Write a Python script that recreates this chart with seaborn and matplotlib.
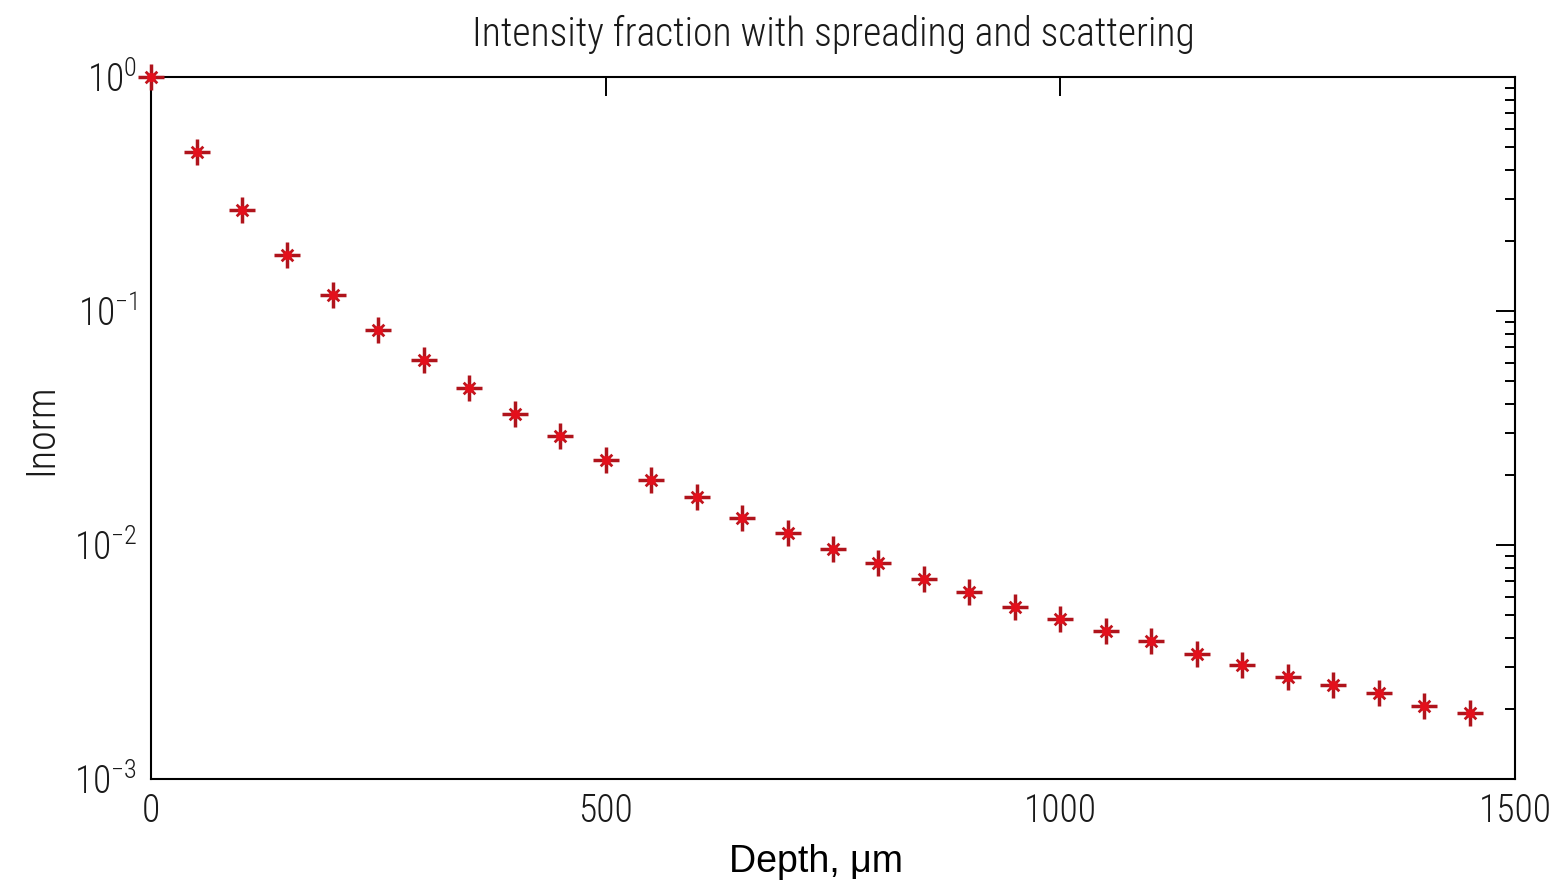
import numpy as np
import pandas as pd
import seaborn as sns
import matplotlib.pyplot as plt
from matplotlib import ticker

depth = [0, 50, 100, 150, 200, 250, 300, 350, 400, 450,
         500, 550, 600, 650, 700, 750, 800, 850, 900, 950,
         1000, 1050, 1100, 1150, 1200, 1250, 1300, 1350, 1400, 1450]
inorm = [1.0, 0.478, 0.271, 0.173, 0.1165, 0.0826, 0.0620, 0.0467, 0.0363, 0.0291,
         0.0230, 0.0189, 0.0160, 0.0131, 0.0113, 0.00957, 0.00834, 0.00719, 0.00627, 0.00541,
         0.00483, 0.00431, 0.00387, 0.00342, 0.00307, 0.00274, 0.00252, 0.00232, 0.00206, 0.00191]
x_ticks = [0, 500, 1000, 1500]
y_ticks = [1e-3, 1e-2, 1e-1, 1e0]

df = pd.DataFrame({"Depth": depth, "Inorm": inorm})

sns.set_style("white")
# thin condensed font, close to the MATLAB axis font
plt.rcParams['font.family'] = ['Roboto Condensed', 'DejaVu Sans']
plt.rcParams['font.weight'] = 300
plt.rcParams['axes.titleweight'] = 300
plt.rcParams['axes.labelweight'] = 300
plt.rcParams['mathtext.fontset'] = 'custom'
plt.rcParams['mathtext.rm'] = 'Roboto Condensed:light'
plt.rcParams['mathtext.it'] = 'Roboto Condensed:light'

fig = plt.figure(figsize=(15.54, 8.85), dpi=100)
ax = fig.add_axes([0.0972, 0.1198, 0.8777, 0.7932])

red = "#e3101c"
# MATLAB-like '*' marker: plus + small cross + dot
for mk, size, lw, col, z in [("+", 330, 2.5, "#b0141c", 3),
                             ("x", 70, 2.0, "#c0141c", 3),
                             ("o", 45, 0, red, 4)]:
    sns.scatterplot(data=df, x="Depth", y="Inorm", marker=mk, s=size, linewidth=lw,
                    color=col, ax=ax, zorder=z, clip_on=False)

ax.set_yscale("log")
ax.set_xlim(0, 1500)
ax.set_ylim(1e-3, 1e0)
ax.set_xticks(x_ticks)
ax.set_yticks(y_ticks)
ax.yaxis.set_minor_locator(ticker.LogLocator(base=10, subs=np.arange(2, 10)))
ax.yaxis.set_major_formatter(ticker.FuncFormatter(
    lambda v, p: r"$\mathregular{10^{%d}}$" % int(round(np.log10(v)))))
ax.yaxis.set_minor_formatter(ticker.NullFormatter())

ax.tick_params(which="both", direction="in", top=True, right=True,
               colors="black", labelsize=27, labelcolor="#1a1a1a")
ax.tick_params(which="major", length=14, width=1.4, pad=10)
ax.tick_params(which="minor", length=7, width=1.4)
for s in ax.spines.values():
    s.set_visible(True)
    s.set_linewidth(1.5)
    s.set_color("black")

ax.set_title("Intensity fraction with spreading and scattering", fontsize=28.5,
             color="#1a1a1a", y=1.061, pad=0, va="center")
ax.set_xlabel("Depth, μm", fontsize=27, family=["Liberation Sans", "DejaVu Sans"],
              weight="normal", color="black", va="center")
ax.xaxis.set_label_coords(0.4875, -0.118)
ax.set_ylabel("Inorm", fontsize=29, color="#1a1a1a", va="center")
ax.yaxis.set_label_coords(-0.081, 0.499)

fig.savefig("out.png", dpi=100, facecolor="white")
